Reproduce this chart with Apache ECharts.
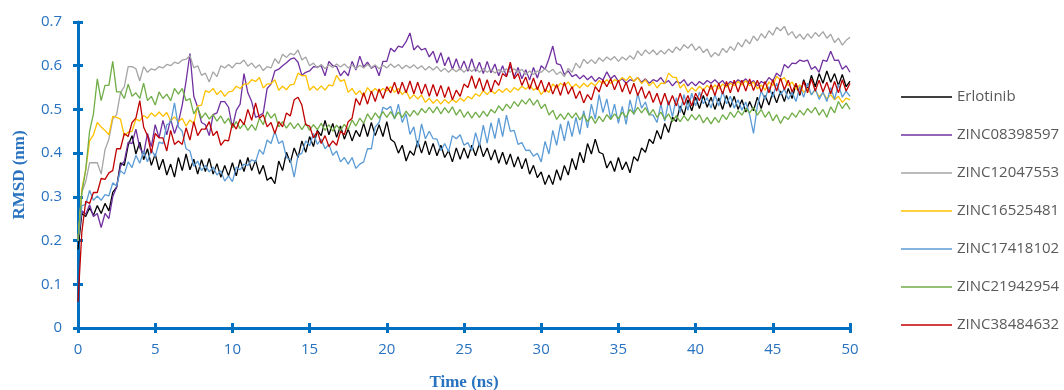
<!DOCTYPE html>
<html>
<head>
<meta charset="utf-8">
<script src="https://cdn.jsdelivr.net/npm/echarts@6/dist/echarts.min.js"></script>
<style>
  html, body { margin: 0; padding: 0; background: #fff; }
  #chart { width: 1064px; height: 390px; }
</style>
</head>
<body>
<div id="chart"></div>
<script>
// RMSD values, one every 0.25 ns (rows of 5 ns)
const erlotinib = [
  0.18, 0.262, 0.255, 0.275, 0.258, 0.28, 0.262, 0.285, 0.268, 0.31, 0.322, 0.378, 0.372, 0.418, 0.44, 0.398, 0.425, 0.385, 0.41, 0.372,
  0.398, 0.362, 0.386, 0.35, 0.375, 0.345, 0.39, 0.36, 0.398, 0.362, 0.386, 0.352, 0.385, 0.358, 0.388, 0.352, 0.376, 0.345, 0.372, 0.348,
  0.378, 0.348, 0.385, 0.358, 0.39, 0.36, 0.384, 0.352, 0.372, 0.338, 0.345, 0.33, 0.382, 0.36, 0.402, 0.378, 0.412, 0.39, 0.428, 0.402,
  0.438, 0.415, 0.452, 0.44, 0.475, 0.442, 0.468, 0.436, 0.462, 0.432, 0.455, 0.428, 0.452, 0.438, 0.468, 0.438, 0.47, 0.44, 0.465, 0.438,
  0.472, 0.432, 0.425, 0.4, 0.418, 0.382, 0.405, 0.395, 0.428, 0.4, 0.428, 0.396, 0.422, 0.394, 0.418, 0.39, 0.406, 0.38, 0.412, 0.386,
  0.412, 0.388, 0.418, 0.394, 0.422, 0.392, 0.412, 0.384, 0.408, 0.377, 0.402, 0.374, 0.398, 0.368, 0.392, 0.364, 0.388, 0.352, 0.372, 0.344,
  0.357, 0.328, 0.35, 0.328, 0.362, 0.338, 0.372, 0.35, 0.388, 0.362, 0.402, 0.378, 0.422, 0.398, 0.432, 0.402, 0.398, 0.366, 0.382, 0.358,
  0.39, 0.362, 0.38, 0.355, 0.392, 0.382, 0.412, 0.402, 0.432, 0.422, 0.452, 0.432, 0.468, 0.447, 0.482, 0.472, 0.508, 0.487, 0.522, 0.497,
  0.528, 0.502, 0.532, 0.505, 0.528, 0.5, 0.526, 0.5, 0.532, 0.505, 0.53, 0.5, 0.522, 0.494, 0.518, 0.497, 0.528, 0.502, 0.532, 0.51,
  0.54, 0.515, 0.542, 0.518, 0.548, 0.525, 0.558, 0.532, 0.568, 0.545, 0.578, 0.552, 0.582, 0.56, 0.588, 0.562, 0.582, 0.555, 0.58, 0.552,
  0.565
];
const zinc08398597 = [
  0.2, 0.268, 0.26, 0.282, 0.255, 0.262, 0.23, 0.262, 0.25, 0.3, 0.322, 0.37, 0.382, 0.425, 0.422, 0.455, 0.412, 0.398, 0.445, 0.415,
  0.465, 0.435, 0.475, 0.442, 0.478, 0.445, 0.47, 0.51, 0.565, 0.628, 0.53, 0.505, 0.47, 0.465, 0.44, 0.488, 0.492, 0.518, 0.518, 0.505,
  0.458, 0.498, 0.512, 0.582, 0.538, 0.518, 0.482, 0.486, 0.492, 0.548, 0.558, 0.588, 0.592, 0.6, 0.607, 0.615, 0.618, 0.608, 0.578, 0.585,
  0.588, 0.598, 0.597, 0.6, 0.577, 0.61, 0.6, 0.598, 0.577, 0.588, 0.577, 0.61, 0.59, 0.622, 0.597, 0.608, 0.594, 0.6, 0.577, 0.61,
  0.61, 0.64, 0.632, 0.645, 0.642, 0.655, 0.675, 0.636, 0.646, 0.636, 0.64, 0.62, 0.633, 0.606, 0.63, 0.6, 0.62, 0.592, 0.616, 0.59,
  0.611, 0.587, 0.616, 0.587, 0.608, 0.582, 0.61, 0.584, 0.604, 0.577, 0.6, 0.576, 0.6, 0.574, 0.596, 0.57, 0.591, 0.567, 0.596, 0.572,
  0.6, 0.592, 0.616, 0.645, 0.605, 0.602, 0.58, 0.588, 0.575, 0.58, 0.57, 0.578, 0.568, 0.576, 0.564, 0.573, 0.567, 0.586, 0.57, 0.578,
  0.564, 0.57, 0.56, 0.568, 0.565, 0.573, 0.562, 0.57, 0.56, 0.568, 0.564, 0.573, 0.56, 0.566, 0.554, 0.564, 0.56, 0.568, 0.554, 0.563,
  0.554, 0.564, 0.557, 0.566, 0.56, 0.568, 0.559, 0.566, 0.554, 0.564, 0.559, 0.568, 0.562, 0.57, 0.559, 0.566, 0.554, 0.564, 0.559, 0.573,
  0.565, 0.583, 0.575, 0.603, 0.595, 0.606, 0.605, 0.613, 0.61, 0.613, 0.592, 0.598, 0.585, 0.613, 0.61, 0.633, 0.612, 0.613, 0.592, 0.6,
  0.585
];
const zinc12047553 = [
  0.2, 0.31, 0.335, 0.378, 0.378, 0.378, 0.352, 0.408, 0.432, 0.478, 0.488, 0.538, 0.552, 0.598, 0.598, 0.593, 0.565, 0.598, 0.585, 0.593,
  0.59, 0.598, 0.595, 0.603, 0.6, 0.608, 0.605, 0.613, 0.615, 0.623, 0.595, 0.6, 0.578, 0.583, 0.563, 0.586, 0.575, 0.6, 0.595, 0.603,
  0.595, 0.606, 0.605, 0.613, 0.599, 0.606, 0.595, 0.602, 0.589, 0.598, 0.595, 0.616, 0.605, 0.626, 0.619, 0.628, 0.625, 0.636, 0.613, 0.62,
  0.6, 0.606, 0.595, 0.603, 0.593, 0.602, 0.596, 0.604, 0.597, 0.604, 0.595, 0.602, 0.593, 0.601, 0.595, 0.603, 0.596, 0.602, 0.593, 0.601,
  0.595, 0.604, 0.596, 0.603, 0.593, 0.601, 0.595, 0.602, 0.593, 0.6, 0.59, 0.598, 0.59, 0.598, 0.587, 0.594, 0.585, 0.593, 0.586, 0.594,
  0.585, 0.594, 0.587, 0.595, 0.585, 0.593, 0.585, 0.592, 0.583, 0.591, 0.585, 0.593, 0.585, 0.593, 0.585, 0.592, 0.58, 0.588, 0.58, 0.588,
  0.585, 0.593, 0.585, 0.592, 0.58, 0.586, 0.575, 0.594, 0.585, 0.606, 0.595, 0.615, 0.605, 0.614, 0.605, 0.618, 0.61, 0.62, 0.613, 0.621,
  0.61, 0.62, 0.613, 0.623, 0.615, 0.634, 0.623, 0.636, 0.627, 0.636, 0.625, 0.635, 0.627, 0.638, 0.63, 0.643, 0.635, 0.648, 0.64, 0.65,
  0.635, 0.644, 0.63, 0.638, 0.62, 0.63, 0.623, 0.64, 0.63, 0.644, 0.635, 0.653, 0.643, 0.66, 0.65, 0.668, 0.657, 0.673, 0.663, 0.68,
  0.67, 0.688, 0.68, 0.69, 0.67, 0.678, 0.663, 0.672, 0.66, 0.673, 0.663, 0.676, 0.667, 0.678, 0.663, 0.672, 0.653, 0.663, 0.647, 0.658,
  0.665
];
const zinc16525481 = [
  0.2, 0.318, 0.362, 0.428, 0.442, 0.47, 0.46, 0.452, 0.442, 0.484, 0.482, 0.478, 0.44, 0.448, 0.45, 0.478, 0.474, 0.486, 0.48, 0.492,
  0.484, 0.494, 0.484, 0.493, 0.474, 0.483, 0.472, 0.48, 0.462, 0.476, 0.467, 0.508, 0.51, 0.543, 0.539, 0.548, 0.534, 0.543, 0.53, 0.54,
  0.542, 0.553, 0.548, 0.558, 0.558, 0.568, 0.564, 0.573, 0.549, 0.558, 0.559, 0.568, 0.544, 0.553, 0.545, 0.556, 0.558, 0.583, 0.577, 0.578,
  0.544, 0.553, 0.544, 0.554, 0.544, 0.556, 0.554, 0.578, 0.564, 0.568, 0.539, 0.548, 0.534, 0.543, 0.53, 0.55, 0.539, 0.548, 0.539, 0.548,
  0.542, 0.552, 0.539, 0.548, 0.534, 0.543, 0.524, 0.534, 0.524, 0.533, 0.516, 0.526, 0.514, 0.523, 0.512, 0.523, 0.514, 0.523, 0.516, 0.526,
  0.519, 0.53, 0.524, 0.536, 0.53, 0.543, 0.534, 0.544, 0.536, 0.546, 0.539, 0.548, 0.539, 0.55, 0.544, 0.553, 0.546, 0.556, 0.544, 0.551,
  0.534, 0.546, 0.539, 0.558, 0.549, 0.56, 0.554, 0.563, 0.549, 0.558, 0.549, 0.56, 0.552, 0.561, 0.554, 0.566, 0.559, 0.568, 0.559, 0.568,
  0.564, 0.573, 0.566, 0.576, 0.564, 0.573, 0.559, 0.568, 0.554, 0.563, 0.549, 0.56, 0.559, 0.583, 0.574, 0.573, 0.549, 0.558, 0.539, 0.55,
  0.542, 0.553, 0.544, 0.555, 0.546, 0.556, 0.547, 0.558, 0.551, 0.56, 0.554, 0.564, 0.556, 0.566, 0.554, 0.563, 0.547, 0.556, 0.544, 0.563,
  0.554, 0.576, 0.567, 0.573, 0.554, 0.563, 0.546, 0.556, 0.539, 0.548, 0.534, 0.544, 0.529, 0.538, 0.524, 0.534, 0.522, 0.53, 0.516, 0.526,
  0.522
];
const zinc17418102 = [
  0.2, 0.28, 0.282, 0.315, 0.292, 0.302, 0.292, 0.305, 0.302, 0.332, 0.325, 0.36, 0.352, 0.38, 0.367, 0.395, 0.377, 0.405, 0.38, 0.408,
  0.392, 0.425, 0.422, 0.465, 0.47, 0.515, 0.46, 0.45, 0.41, 0.405, 0.37, 0.382, 0.36, 0.372, 0.357, 0.368, 0.35, 0.36, 0.336, 0.348,
  0.335, 0.368, 0.362, 0.375, 0.372, 0.385, 0.38, 0.408, 0.397, 0.43, 0.422, 0.45, 0.422, 0.428, 0.39, 0.385, 0.345, 0.395, 0.4, 0.428,
  0.417, 0.445, 0.42, 0.432, 0.41, 0.42, 0.395, 0.405, 0.38, 0.39, 0.375, 0.39, 0.365, 0.375, 0.38, 0.41, 0.41, 0.46, 0.47, 0.505,
  0.5, 0.507, 0.478, 0.512, 0.47, 0.49, 0.443, 0.46, 0.413, 0.467, 0.433, 0.45, 0.433, 0.432, 0.406, 0.422, 0.403, 0.44, 0.433, 0.442,
  0.418, 0.424, 0.406, 0.447, 0.416, 0.464, 0.423, 0.47, 0.433, 0.48, 0.438, 0.487, 0.45, 0.452, 0.42, 0.424, 0.406, 0.407, 0.393, 0.4,
  0.38, 0.427, 0.398, 0.452, 0.418, 0.467, 0.428, 0.474, 0.438, 0.482, 0.443, 0.497, 0.458, 0.512, 0.478, 0.534, 0.493, 0.524, 0.478, 0.512,
  0.468, 0.507, 0.466, 0.522, 0.488, 0.537, 0.503, 0.517, 0.488, 0.487, 0.47, 0.512, 0.473, 0.52, 0.483, 0.527, 0.493, 0.534, 0.498, 0.537,
  0.508, 0.54, 0.513, 0.527, 0.503, 0.534, 0.508, 0.542, 0.513, 0.53, 0.503, 0.522, 0.498, 0.517, 0.488, 0.445, 0.508, 0.542, 0.523, 0.552,
  0.528, 0.56, 0.533, 0.547, 0.523, 0.54, 0.518, 0.552, 0.528, 0.56, 0.533, 0.547, 0.523, 0.54, 0.518, 0.55, 0.523, 0.557, 0.528, 0.542,
  0.53
];
const zinc21942954 = [
  0.2, 0.31, 0.362, 0.45, 0.49, 0.57, 0.52, 0.555, 0.555, 0.61, 0.54, 0.54, 0.525, 0.558, 0.53, 0.538, 0.525, 0.56, 0.52, 0.53,
  0.51, 0.54, 0.525, 0.535, 0.52, 0.548, 0.535, 0.548, 0.52, 0.525, 0.49, 0.505, 0.48, 0.492, 0.478, 0.488, 0.473, 0.485, 0.468, 0.48,
  0.458, 0.472, 0.456, 0.468, 0.452, 0.465, 0.452, 0.48, 0.465, 0.495, 0.48, 0.49, 0.46, 0.472, 0.457, 0.47, 0.456, 0.468, 0.454, 0.468,
  0.452, 0.465, 0.454, 0.468, 0.452, 0.465, 0.45, 0.464, 0.452, 0.466, 0.454, 0.476, 0.462, 0.48, 0.468, 0.49, 0.476, 0.492, 0.48, 0.495,
  0.482, 0.495, 0.48, 0.494, 0.482, 0.496, 0.484, 0.498, 0.487, 0.502, 0.492, 0.505, 0.492, 0.506, 0.49, 0.504, 0.492, 0.506, 0.487, 0.5,
  0.482, 0.495, 0.48, 0.494, 0.482, 0.496, 0.484, 0.5, 0.492, 0.508, 0.497, 0.512, 0.502, 0.518, 0.507, 0.522, 0.512, 0.525, 0.51, 0.522,
  0.502, 0.512, 0.487, 0.498, 0.477, 0.49, 0.477, 0.492, 0.48, 0.492, 0.476, 0.488, 0.472, 0.484, 0.468, 0.484, 0.472, 0.488, 0.477, 0.49,
  0.479, 0.494, 0.482, 0.5, 0.49, 0.505, 0.492, 0.504, 0.487, 0.5, 0.482, 0.494, 0.477, 0.49, 0.472, 0.486, 0.472, 0.486, 0.474, 0.488,
  0.476, 0.488, 0.469, 0.482, 0.467, 0.482, 0.47, 0.488, 0.477, 0.494, 0.482, 0.497, 0.487, 0.502, 0.492, 0.505, 0.487, 0.5, 0.482, 0.495,
  0.474, 0.488, 0.468, 0.484, 0.477, 0.492, 0.482, 0.498, 0.487, 0.502, 0.492, 0.505, 0.487, 0.5, 0.482, 0.506, 0.492, 0.518, 0.502, 0.515,
  0.5
];
const zinc38484632 = [
  0.06, 0.22, 0.29, 0.285, 0.31, 0.31, 0.342, 0.34, 0.355, 0.36, 0.41, 0.41, 0.445, 0.438, 0.47, 0.48, 0.52, 0.46, 0.44, 0.4,
  0.445, 0.435, 0.435, 0.405, 0.452, 0.42, 0.428, 0.42, 0.458, 0.43, 0.472, 0.44, 0.455, 0.455, 0.472, 0.44, 0.45, 0.418, 0.43, 0.428,
  0.468, 0.455, 0.478, 0.465, 0.5, 0.475, 0.515, 0.48, 0.488, 0.46, 0.47, 0.445, 0.472, 0.46, 0.492, 0.485, 0.522, 0.528, 0.51, 0.465,
  0.462, 0.435, 0.45, 0.422, 0.44, 0.415, 0.428, 0.418, 0.45, 0.442, 0.472, 0.48, 0.525, 0.51, 0.538, 0.512, 0.542, 0.518, 0.547, 0.525,
  0.552, 0.538, 0.562, 0.535, 0.562, 0.538, 0.565, 0.536, 0.562, 0.535, 0.558, 0.53, 0.557, 0.53, 0.555, 0.527, 0.552, 0.522, 0.544, 0.53,
  0.558, 0.55, 0.577, 0.548, 0.572, 0.542, 0.568, 0.54, 0.567, 0.555, 0.582, 0.575, 0.608, 0.57, 0.582, 0.555, 0.574, 0.546, 0.572, 0.545,
  0.567, 0.54, 0.562, 0.535, 0.557, 0.532, 0.562, 0.535, 0.552, 0.525, 0.542, 0.515, 0.534, 0.522, 0.552, 0.54, 0.567, 0.552, 0.57, 0.545,
  0.567, 0.54, 0.562, 0.535, 0.56, 0.532, 0.552, 0.525, 0.542, 0.516, 0.537, 0.51, 0.537, 0.51, 0.532, 0.508, 0.537, 0.51, 0.532, 0.508,
  0.537, 0.52, 0.547, 0.53, 0.557, 0.532, 0.56, 0.535, 0.564, 0.538, 0.567, 0.54, 0.567, 0.542, 0.57, 0.543, 0.567, 0.54, 0.564, 0.538,
  0.568, 0.542, 0.572, 0.545, 0.567, 0.54, 0.56, 0.535, 0.564, 0.538, 0.57, 0.542, 0.567, 0.54, 0.562, 0.536, 0.564, 0.538, 0.568, 0.542,
  0.56
];

const names = ['Erlotinib', 'ZINC08398597', 'ZINC12047553', 'ZINC16525481', 'ZINC17418102', 'ZINC21942954', 'ZINC38484632'];
const colors = ['#000000', '#7030A0', '#A5A5A5', '#FFC000', '#5B9BD5', '#70AD47', '#C00000'];
const allValues = [erlotinib, zinc08398597, zinc12047553, zinc16525481, zinc17418102, zinc21942954, zinc38484632];
const xTicks = { min: 0, max: 50, interval: 5 };
const yTicks = { min: 0, max: 0.7, interval: 0.1 };

// sampling grid of the trajectory: 0.25 ns
const step = 0.25;
const toPoints = (vals) => vals.map((v, i) => [i * step, v]);

const axisBlue = '#0070C0';
const labelBlue = '#2872BF';
const gridBox = { left: 78, right: 214, top: 22, bottom: 62, outerBoundsMode: 'none', containLabel: false };

let chart = echarts.init(document.getElementById('chart'));

// second grid (same box) only carries the inner half of the crossing ticks
const innerTick = { show: true, inside: true, length: 5, lineStyle: { color: axisBlue, width: 3 } };

const option = {
  animation: false,
  backgroundColor: '#fff',
  grid: [
    Object.assign({}, gridBox),
    Object.assign({}, gridBox),
  ],
  legend: {
    orient: 'vertical',
    left: 901,
    top: 89,
    padding: 0,
    icon: 'rect',
    itemWidth: 51,
    itemHeight: 1.5,
    itemGap: 22,
    data: names,
    textStyle: {
      color: '#595959',
      fontFamily: 'Open Sans',
      fontSize: 15,
      lineHeight: 16,
    },
  },
  xAxis: [
    {
      type: 'value',
      gridIndex: 0,
      min: xTicks.min,
      max: xTicks.max,
      interval: xTicks.interval,
      name: 'Time (ns)',
      nameLocation: 'middle',
      nameGap: 46,
      nameTextStyle: {
        color: labelBlue,
        fontFamily: 'Liberation Serif',
        fontWeight: 'bold',
        fontSize: 17,
      },
      axisLine: { lineStyle: { color: axisBlue, width: 3 } },
      axisTick: { show: true, length: 5, lineStyle: { color: axisBlue, width: 3 } },
      axisLabel: {
        margin: 14,
        color: labelBlue,
        fontFamily: 'Open Sans',
        fontSize: 15,
      },
      splitLine: { show: false },
    },
    {
      type: 'value',
      gridIndex: 1,
      min: xTicks.min,
      max: xTicks.max,
      interval: xTicks.interval,
      axisLine: { show: false },
      axisTick: innerTick,
      axisLabel: { show: false },
      splitLine: { show: false },
    },
  ],
  yAxis: [
    {
      type: 'value',
      gridIndex: 0,
      min: yTicks.min,
      max: yTicks.max,
      interval: yTicks.interval,
      name: 'RMSD (nm)',
      nameLocation: 'middle',
      nameGap: 50,
      nameRotate: 90,
      nameTextStyle: {
        color: labelBlue,
        fontFamily: 'Liberation Serif',
        fontWeight: 'bold',
        fontSize: 17,
      },
      axisLine: { show: true, lineStyle: { color: axisBlue, width: 3 } },
      axisTick: { show: true, length: 5, lineStyle: { color: axisBlue, width: 3 } },
      axisLabel: {
        margin: 16,
        color: labelBlue,
        fontFamily: 'Open Sans',
        fontSize: 15,
      },
      splitLine: { show: false },
    },
    {
      type: 'value',
      gridIndex: 1,
      min: yTicks.min,
      max: yTicks.max,
      interval: yTicks.interval,
      axisLine: { show: false },
      axisTick: innerTick,
      axisLabel: { show: false },
      splitLine: { show: false },
    },
  ],
  series: names.map((name, i) => ({
    name: name,
    type: 'line',
    xAxisIndex: 0,
    yAxisIndex: 0,
    data: toPoints(allValues[i]),
    showSymbol: false,
    symbol: 'none',
    color: colors[i],
    lineStyle: { width: 1.3, color: colors[i] },
    z: 2 + i,
  })),
};

chart.setOption(option);
</script>
</body>
</html>
